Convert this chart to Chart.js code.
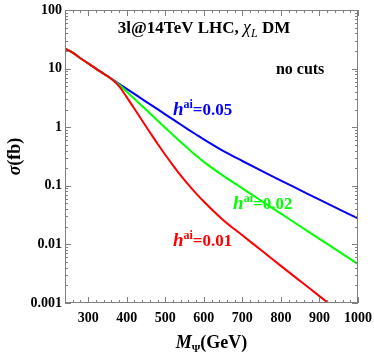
<!DOCTYPE html>
<html>
<head>
<meta charset="utf-8">
<script src="https://cdn.jsdelivr.net/npm/chart.js@4/dist/chart.umd.min.js"></script>
<style>
  html, body { margin: 0; padding: 0; background: #fff; }
</style>
</head>
<body>
<canvas id="chart" width="374" height="354"></canvas>
<script>
// Values.
const masses = [240, 260, 280, 300, 320, 340, 360, 380, 400, 420, 440, 460, 480, 500,
  520, 540, 560, 580, 600, 650, 700, 750, 800, 850, 900, 950, 1000];

// h^ai = 0.05 (blue)
const sigma005 = [22.0, 18.8, 15.0, 12.3, 10.0, 8.22, 6.72, 5.52, 4.52, 3.70, 3.02, 2.47, 2.03, 1.66,
  1.36, 1.11, 0.91, 0.75, 0.62, 0.395, 0.265, 0.180, 0.123, 0.0845, 0.058, 0.040, 0.0278];

// h^ai = 0.02 (green)
const sigma002 = [22.0, 18.8, 15.0, 12.3, 10.0, 8.22, 6.72, 5.35, 4.05, 3.05, 2.30, 1.73, 1.30, 0.98,
  0.74, 0.56, 0.427, 0.328, 0.256, 0.149, 0.0905, 0.0550, 0.0335, 0.0204, 0.0124, 0.00759, 0.00462];

// h^ai = 0.01 (red)
const sigma001 = [22.0, 18.8, 15.0, 12.3, 10.0, 8.22, 6.72, 5.02, 3.26, 2.07, 1.30, 0.822, 0.522, 0.339,
  0.224, 0.151, 0.105, 0.0744, 0.0540, 0.0262, 0.0143, 0.00785, 0.00430, 0.00237, 0.00131, 0.000721, 0.000398];

const xTickValues = [300, 400, 500, 600, 700, 800, 900, 1000];
const yTickValues = [0.001, 0.01, 0.1, 1, 10, 100];
const yTickLabels = ['0.001', '0.01', '0.1', '1', '10', '100'];

// Styling.
const serif = "'Liberation Serif', 'DejaVu Serif', serif";
const frameColor = '#7f7f7f';
const blue = '#0000ff';
const green = '#00ff00';
const red = '#ff0000';

const toPoints = (ys) => masses.map((m, i) => ({x: m, y: ys[i]}));

// Text placed in data coordinates (left edge, baseline).
const textLabels = [
  {m: 377, s: 41, color: '#000', runs: [
    {text: '3l@14TeV LHC, ', font: `bold 17px ${serif}`},
    {text: 'χ', font: `italic 18px ${serif}`},
    {text: 'L', font: `italic 12px ${serif}`, rise: -4},
    {text: ' DM', font: `bold 17px ${serif}`}]},
  {m: 787, s: 8.0, color: '#000', runs: [
    {text: 'no cuts', font: `bold 16px ${serif}`}]},
  {m: 520, s: 1.6, color: blue, runs: [
    {text: 'h', font: `bold italic 19px ${serif}`},
    {text: 'ai', font: `bold 12px ${serif}`, rise: 7},
    {text: '=0.05', font: `bold 17px ${serif}`}]},
  {m: 676, s: 0.0396, color: green, runs: [
    {text: 'h', font: `bold italic 19px ${serif}`},
    {text: 'ai', font: `bold 12px ${serif}`, rise: 7},
    {text: '=0.02', font: `bold 17px ${serif}`}]},
  {m: 520, s: 0.00925, color: red, runs: [
    {text: 'h', font: `bold italic 19px ${serif}`},
    {text: 'ai', font: `bold 12px ${serif}`, rise: 7},
    {text: '=0.01', font: `bold 17px ${serif}`}]},
];

function drawRuns(ctx, runs, x, y, align) {
  let total = 0;
  runs.forEach((r) => {
    ctx.font = r.font;
    total += ctx.measureText(r.text).width;
  });
  let cx = align === 'center' ? x - total / 2 : x;
  runs.forEach((r) => {
    ctx.font = r.font;
    ctx.fillText(r.text, cx, y - (r.rise || 0));
    cx += ctx.measureText(r.text).width;
  });
}

// Frame with inward ticks on all four sides, plus the text.
const framePlugin = {
  id: 'frame',
  afterDatasetsDraw(chart) {
    const {ctx, chartArea: a, scales: {x, y}} = chart;
    ctx.save();
    ctx.strokeStyle = frameColor;
    ctx.lineWidth = 1;
    ctx.strokeRect(a.left + 0.5, a.top + 0.5, a.right - a.left - 1, a.bottom - a.top - 1);

    const tick = (x1, y1, x2, y2) => {
      ctx.beginPath();
      ctx.moveTo(x1, y1);
      ctx.lineTo(x2, y2);
      ctx.stroke();
    };

    for (let m = x.min; m <= x.max; m += 20) {
      const px = Math.round(x.getPixelForValue(m)) + 0.5;
      const len = m % 100 === 0 ? 6 : 3;
      tick(px, a.bottom, px, a.bottom - len);
      tick(px, a.top, px, a.top + len);
    }
    yTickValues.forEach((base) => {
      for (let k = 1; k <= 9; k++) {
        const v = base * k;
        if (v > y.max) break;
        const py = Math.round(y.getPixelForValue(v)) + 0.5;
        const len = k === 1 ? 6 : 3;
        tick(a.left, py, a.left + len, py);
        tick(a.right, py, a.right - len, py);
      }
    });
    ctx.restore();
  },
  afterDraw(chart) {
    const {ctx, chartArea: a, scales: {x, y}} = chart;
    ctx.save();
    ctx.textBaseline = 'alphabetic';
    ctx.textAlign = 'left';

    textLabels.forEach((lab) => {
      ctx.fillStyle = lab.color;
      drawRuns(ctx, lab.runs, x.getPixelForValue(lab.m), y.getPixelForValue(lab.s), 'left');
    });

    // axis titles
    ctx.fillStyle = '#000';
    drawRuns(ctx, [
      {text: 'M', font: `bold italic 18px ${serif}`},
      {text: 'Ψ', font: `bold 11px ${serif}`, rise: -4},
      {text: '(GeV)', font: `bold 18px ${serif}`}],
      (a.left + a.right) / 2, 348, 'center');

    ctx.translate(20, (a.top + a.bottom) / 2);
    ctx.rotate(-Math.PI / 2);
    drawRuns(ctx, [
      {text: 'σ', font: `bold italic 18px ${serif}`},
      {text: '(fb)', font: `bold 18px ${serif}`}],
      0, 0, 'center');
    ctx.restore();
  }
};

const tickFont = {family: serif, size: 14, weight: 'bold'};

const config = {
  type: 'line',
  data: {
    datasets: [
      {label: 'h=0.01', data: toPoints(sigma001), borderColor: red, borderWidth: 2},
      {label: 'h=0.02', data: toPoints(sigma002), borderColor: green, borderWidth: 2},
      {label: 'h=0.05', data: toPoints(sigma005), borderColor: blue, borderWidth: 2},
    ]
  },
  options: {
    responsive: false,
    devicePixelRatio: 1,
    animation: false,
    layout: {padding: {left: 0, right: 16, top: 10, bottom: 0}},
    elements: {
      point: {radius: 0},
      line: {cubicInterpolationMode: 'monotone', fill: false},
    },
    plugins: {legend: {display: false}, tooltip: {enabled: false}},
    scales: {
      x: {
        type: 'linear', min: 240, max: 1000,
        afterBuildTicks: (s) => { s.ticks = xTickValues.map((v) => ({value: v})); },
        afterFit: (s) => {
          s.height = 51;
          s.paddingLeft = 0;
          s.paddingRight = 0;
        },
        grid: {display: false, drawTicks: false},
        border: {display: false},
        ticks: {font: tickFont, color: '#000', padding: 7, maxRotation: 0, autoSkip: false,
          callback: (v) => String(v)},
      },
      y: {
        type: 'logarithmic', min: 0.001, max: 100,
        afterBuildTicks: (s) => { s.ticks = yTickValues.map((v) => ({value: v})); },
        afterFit: (s) => {
          s.width = 65;
          s.paddingTop = 0;
          s.paddingBottom = 0;
        },
        grid: {display: false, drawTicks: false},
        border: {display: false},
        ticks: {font: tickFont, color: '#000', padding: 3, autoSkip: false,
          callback: (v) => yTickLabels[yTickValues.indexOf(v)]},
      },
    },
  },
  plugins: [framePlugin],
};

const chart = new Chart(document.getElementById('chart'), config);
</script>
</body>
</html>
